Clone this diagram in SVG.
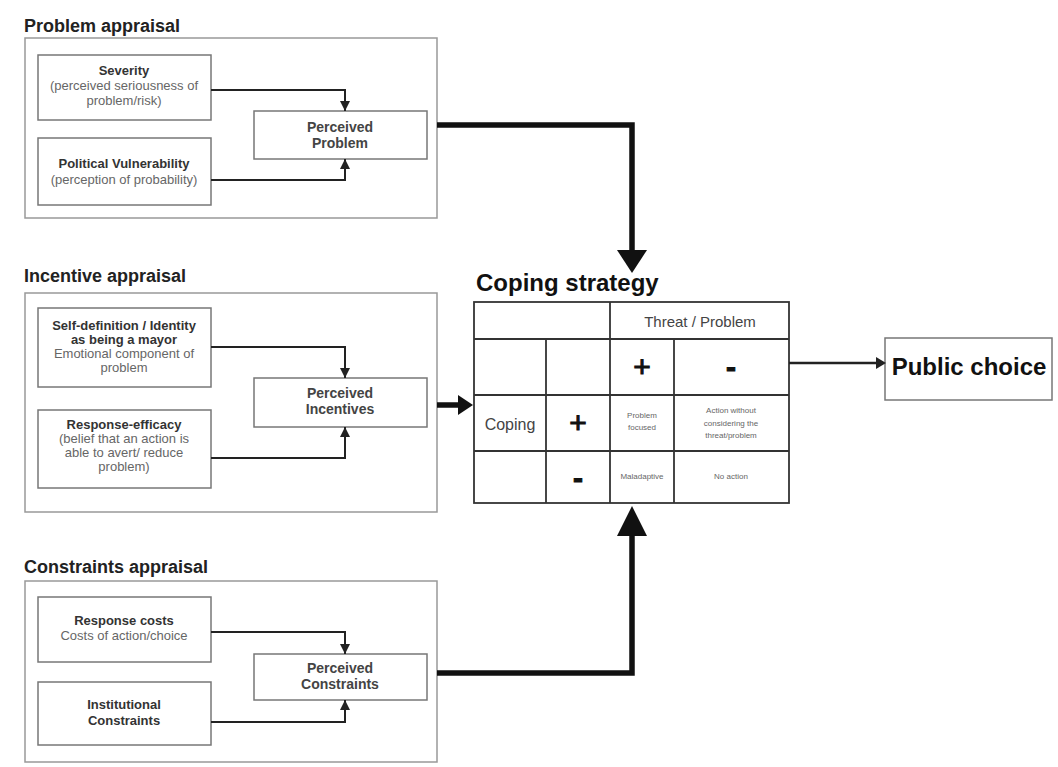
<svg xmlns="http://www.w3.org/2000/svg" width="1058" height="767" viewBox="0 0 1058 767">
<defs>
<marker id="sm" viewBox="0 0 10 10" refX="10" refY="5" markerWidth="5" markerHeight="5" orient="auto" markerUnits="strokeWidth"><path d="M0,0 L10,5 L0,10 z" fill="#222"/></marker>
</defs>
<style>
text{font-family:"Liberation Sans",Arial,sans-serif;fill:#333}
.sec{font-size:18px;font-weight:bold;fill:#222}
.outer{fill:#fff;stroke:#999;stroke-width:1.5}
.box{fill:#fff;stroke:#777;stroke-width:1.5}
.b{font-size:13px;font-weight:bold;text-anchor:middle;fill:#333}
.n{font-size:13px;text-anchor:middle;fill:#666}
.p{font-size:14px;font-weight:bold;text-anchor:middle;fill:#444}
.thin{fill:none;stroke:#222;stroke-width:2;marker-end:url(#sm)}
.thick{fill:none;stroke:#111;stroke-width:5.5}
.tbl{fill:none;stroke:#333;stroke-width:1.8}
.big{font-size:24px;font-weight:bold;fill:#111}
.t{text-anchor:middle;fill:#444}
.pm{text-anchor:middle;fill:#111;stroke:#111;stroke-width:1;font-size:30px}
.s{font-size:8px;text-anchor:middle;fill:#666}
</style>
<rect width="1058" height="767" fill="#fff"/>

<g id="problem-appraisal">
<text class="sec" x="24" y="32">Problem appraisal</text>
<rect class="outer" x="25" y="38" width="412" height="180"/>
</g>
<g id="severity">
<rect class="box" x="38" y="55" width="173" height="65"/>
<text class="b" x="124" y="75">Severity</text>
<text class="n" x="124" y="90">(perceived seriousness of</text>
<text class="n" x="124" y="105">problem/risk)</text>
</g>
<g id="political-vulnerability">
<rect class="box" x="38" y="138" width="173" height="67"/>
<text class="b" x="124" y="168">Political Vulnerability</text>
<text class="n" x="124" y="184">(perception of probability)</text>
</g>
<g id="perceived-problem">
<rect class="box" x="254" y="111" width="173" height="48"/>
<text class="p" x="340" y="132">Perceived</text>
<text class="p" x="340" y="148">Problem</text>
</g>

<g id="incentive-appraisal">
<text class="sec" x="24" y="282">Incentive appraisal</text>
<rect class="outer" x="25" y="293" width="412" height="219"/>
</g>
<g id="self-definition">
<rect class="box" x="38" y="308" width="173" height="79"/>
<text class="b" x="124" y="330">Self-definition / Identity</text>
<text class="b" x="124" y="344">as being a mayor</text>
<text class="n" x="124" y="358">Emotional component of</text>
<text class="n" x="124" y="372">problem</text>
</g>
<g id="response-efficacy">
<rect class="box" x="38" y="410" width="173" height="78"/>
<text class="b" x="124" y="429">Response-efficacy</text>
<text class="n" x="124" y="443">(belief that an action is</text>
<text class="n" x="124" y="457">able to avert/ reduce</text>
<text class="n" x="124" y="471">problem)</text>
</g>
<g id="perceived-incentives">
<rect class="box" x="254" y="378" width="173" height="49"/>
<text class="p" x="340" y="398">Perceived</text>
<text class="p" x="340" y="414">Incentives</text>
</g>

<g id="constraints-appraisal">
<text class="sec" x="24" y="573">Constraints appraisal</text>
<rect class="outer" x="25" y="581" width="412" height="181"/>
</g>
<g id="response-costs">
<rect class="box" x="38" y="597" width="173" height="65"/>
<text class="b" x="124" y="625">Response costs</text>
<text class="n" x="124" y="640">Costs of action/choice</text>
</g>
<g id="institutional-constraints">
<rect class="box" x="38" y="682" width="173" height="63"/>
<text class="b" x="124" y="709">Institutional</text>
<text class="b" x="124" y="725">Constraints</text>
</g>
<g id="perceived-constraints">
<rect class="box" x="254" y="654" width="173" height="46"/>
<text class="p" x="340" y="673">Perceived</text>
<text class="p" x="340" y="689">Constraints</text>
</g>

<g id="coping-strategy">
<text class="big" x="476" y="291">Coping strategy</text>
<rect class="tbl" x="474" y="302" width="315" height="201"/>
<path class="tbl" d="M610,302 V503 M546,339 V503 M674,339 V503 M474,339 H789 M474,395 H789 M474,451 H789"/>
<text class="t" x="700" y="327" font-size="15">Threat / Problem</text>
<text class="pm" x="642" y="377">+</text>
<text class="pm" x="731" y="377" font-weight="bold">-</text>
<text class="t" x="510" y="430" font-size="16" fill="#444">Coping</text>
<text class="pm" x="578" y="433">+</text>
<text class="pm" x="578" y="488" font-weight="bold">-</text>
<text class="s" x="642" y="418">Problem</text>
<text class="s" x="642" y="430">focused</text>
<text class="s" x="731" y="413">Action without</text>
<text class="s" x="731" y="426">considering the</text>
<text class="s" x="731" y="438">threat/problem</text>
<text class="s" x="642" y="479" font-size="7">Maladaptive</text>
<text class="s" x="731" y="479">No action</text>
</g>

<g id="public-choice">
<rect class="box" x="885" y="338" width="167" height="62"/>
<text class="big" x="969" y="375" text-anchor="middle">Public choice</text>
</g>

<g id="connectors">
<path class="thin" d="M211,90 H345 V111"/>
<path class="thin" d="M211,180 H345 V159"/>
<path class="thin" d="M211,347 H345 V378"/>
<path class="thin" d="M211,458 H345 V427"/>
<path class="thin" d="M211,632 H345 V654"/>
<path class="thin" d="M211,722 H345 V700"/>
<path class="thick" d="M437,125 H632 V252"/>
<path d="M617,250 L647,250 L632,273 Z" fill="#111"/>
<path class="thick" d="M437,673 H632 V534"/>
<path d="M617,536 L647,536 L632,506 Z" fill="#111"/>
<path class="thick" d="M437,405 H460"/>
<path d="M458,395 L473,405 L458,415 Z" fill="#111"/>
<path fill="none" stroke="#222" stroke-width="2.5" d="M789,363 H877"/>
<path d="M876,357 L886,363 L876,369 Z" fill="#222"/>
</g>
</svg>
